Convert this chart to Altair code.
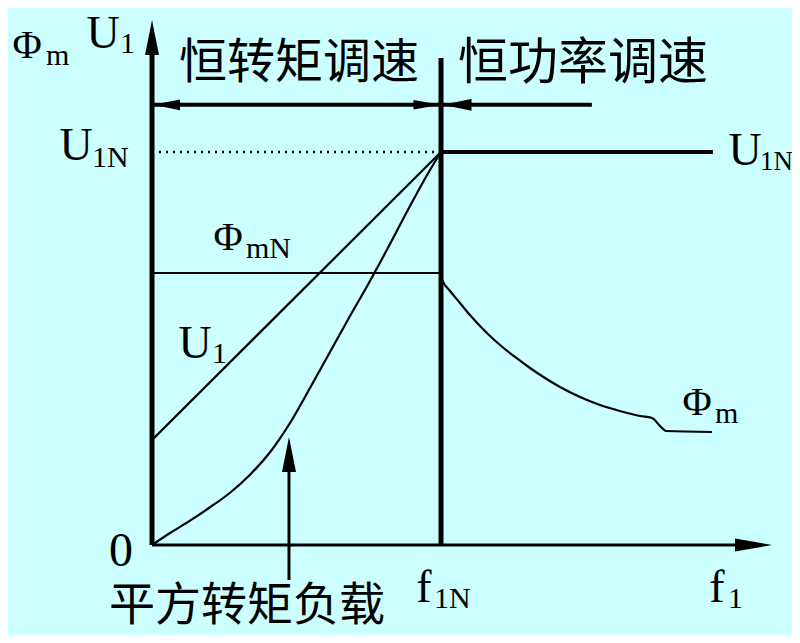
import altair as alt
import pandas as pd

# ---------------- data (x in units of f1N, y in units of U1N) ----------------
# square-torque load curve
sq_f = [0.0, 0.0623, 0.1315, 0.2007, 0.2699, 0.3391, 0.4083, 0.4775, 0.5467, 0.6159,
        0.6851, 0.7543, 0.8235, 0.8927, 0.9619, 1.0]
sq_v = [0.0, 0.0305, 0.0620, 0.0960, 0.1330, 0.1790, 0.2360, 0.3104, 0.3995, 0.4911,
        0.5827, 0.6718, 0.7659, 0.8626, 0.9542, 1.0]

# flux above base frequency (constant power region)
phi_f = [1.0, 1.0069, 1.0311, 1.0657, 1.1003, 1.1349, 1.1696, 1.2042, 1.2561, 1.3080,
         1.3599, 1.4118, 1.4810, 1.5502, 1.6194, 1.6886, 1.7301, 1.7578, 1.7785, 1.9377]
phi_v = [0.680, 0.6692, 0.6463, 0.6158, 0.5852, 0.5573, 0.5318, 0.5089, 0.4784, 0.4504,
         0.4249, 0.4020, 0.3766, 0.3562, 0.3410, 0.3282, 0.3232, 0.3028, 0.2901, 0.2875]

# U1 straight line (constant torque region, with boost)
u1_f = [0.0, 1.0]
u1_v = [0.267, 1.0]

# reference levels
F1N = 1.0
U1N = 1.0
PHI_MN = 0.692
F1N_TOP = 1.239    # height of the f1N divider
BAND_Y = 1.12      # level of the region arrows
BAND_END = 1.522
U1N_END = 1.941
LOAD_X = 0.474     # arrow pointing at the square-torque curve
LOAD_Y0 = -0.089
LOAD_Y1 = 0.23

# solid segments: x, y, x2, y2, stroke width
seg_x = [0.0, 0.0, F1N, 0.0, F1N, 0.0, LOAD_X]
seg_y = [0.0, 0.0, 0.0, BAND_Y, U1N, PHI_MN, LOAD_Y0]
seg_x2 = [0.0, 2.09, F1N, BAND_END, U1N_END, F1N, LOAD_X]
seg_y2 = [1.28, 0.0, F1N_TOP, BAND_Y, U1N, PHI_MN, LOAD_Y1]
seg_w = [5, 3, 5, 4, 4, 2, 3]

# arrowheads: x, y, direction, size
ah_x = [0.0, 2.0813, 0.0502, 0.9516, 1.0554, LOAD_X]
ah_y = [1.2913, 0.0, BAND_Y, BAND_Y, BAND_Y, 0.2303]
ah_dir = ["up", "right", "left", "right", "left", "up"]
ah_size = [1225, 1369, 729, 729, 841, 1225]

# main latin / greek letters (centred, on baseline)
main_text = ["Φ", "U", "U", "U", "Φ", "U", "Φ", "0", "f", "f"]
main_x = [-0.4325, -0.1696, -0.2630, 2.0519, 0.2630, 0.1488, 1.8858, -0.1073, 0.9412, 1.9550]
main_y = [1.2392, 1.2646, 0.9796, 0.9669, 0.7506, 0.4758, 0.3308, -0.0534, -0.1450, -0.1450]
main_size = [40, 46, 46, 46, 40, 46, 40, 48, 46, 46]

# subscripts (left aligned, on baseline)
sub_text = ["m", "1", "1N", "1N", "mN", "1", "m", "1N", "1"]
sub_x = [-0.3668, -0.1107, -0.2076, 2.1038, 0.3253, 0.2076, 1.9481, 0.9758, 1.9931]
sub_y = [1.2214, 1.2519, 0.9618, 0.9542, 0.7303, 0.4631, 0.3104, -0.1603, -0.1603]
sub_size = [30, 30, 30, 27, 30, 30, 30, 30, 30]

# chinese labels
cjk_text = ["恒转矩调速", "恒功率调速", "平方转矩负载"]
cjk_x = [0.5087, 1.4913, 0.3287]
cjk_y = [1.2239, 1.2239, -0.1552]
cjk_size = [48, 50, 46]

# ---------------- chart ----------------
XS = alt.Scale(domain=[-0.4983, 2.2145], nice=False, zero=False)
YS = alt.Scale(domain=[-0.2290, 1.3664], nice=False, zero=False)

shapes = {
    "up": "M0,-1L0.4,1L-0.4,1Z",
    "right": "M1,0L-1,-0.35L-1,0.35Z",
    "left": "M-1,0L1,-0.4L1,0.4Z",
}

sq_df = pd.DataFrame({"f": sq_f, "v": sq_v})
phi_df = pd.DataFrame({"f": phi_f, "v": phi_v})
u1_df = pd.DataFrame({"f": u1_f, "v": u1_v})
seg_df = pd.DataFrame({"x": seg_x, "y": seg_y, "x2": seg_x2, "y2": seg_y2, "w": seg_w})
ah_df = pd.DataFrame({"x": ah_x, "y": ah_y, "shape": [shapes[d] for d in ah_dir], "s": ah_size})
main_df = pd.DataFrame({"t": main_text, "x": main_x, "y": main_y, "s": main_size})
sub_df = pd.DataFrame({"t": sub_text, "x": sub_x, "y": sub_y, "s": sub_size})
cjk_df = pd.DataFrame({"t": cjk_text, "x": cjk_x, "y": cjk_y, "s": cjk_size})
dot_df = pd.DataFrame({"x": [0.0], "x2": [F1N], "y": [U1N]})

X = lambda f: alt.X(f, type="quantitative", scale=XS, axis=None)
Y = lambda f: alt.Y(f, type="quantitative", scale=YS, axis=None)

segs = alt.Chart(seg_df).mark_rule(color="black").encode(
    x=X("x"), y=Y("y"), x2="x2", y2="y2",
    strokeWidth=alt.StrokeWidth("w:Q", scale=None),
)
dotted = alt.Chart(dot_df).mark_rule(color="black", strokeWidth=2.5, strokeDash=[2, 5]).encode(
    x=X("x"), x2="x2", y=Y("y")
)

def curve(df):
    return alt.Chart(df).mark_line(color="black", strokeWidth=2.2, interpolate="monotone").encode(
        x=X("f"), y=Y("v"), order="f:Q"
    )

heads = alt.Chart(ah_df).mark_point(filled=True, color="black", opacity=1, strokeWidth=0).encode(
    x=X("x"), y=Y("y"),
    shape=alt.Shape("shape:N", scale=None),
    size=alt.Size("s:Q", scale=None),
)

main = alt.Chart(main_df).mark_text(
    font="Liberation Serif", color="black", align="center", baseline="alphabetic"
).encode(x=X("x"), y=Y("y"), text="t:N", size=alt.Size("s:Q", scale=None))

sub = alt.Chart(sub_df).mark_text(
    font="Liberation Serif", color="black", align="left", baseline="alphabetic"
).encode(x=X("x"), y=Y("y"), text="t:N", size=alt.Size("s:Q", scale=None))

cjk = alt.Chart(cjk_df).mark_text(
    font="Noto Sans CJK SC", color="black", align="center", baseline="middle"
).encode(x=X("x"), y=Y("y"), text="t:N", size=alt.Size("s:Q", scale=None))

chart = alt.layer(
    dotted, segs, curve(u1_df), curve(sq_df), curve(phi_df), heads, main, sub, cjk
).properties(
    width=784, height=627, background="#CCFFFF", padding=0, autosize="none"
).configure_view(stroke=None)

chart.save("out.html", embed_options={"renderer": "svg", "actions": False})
